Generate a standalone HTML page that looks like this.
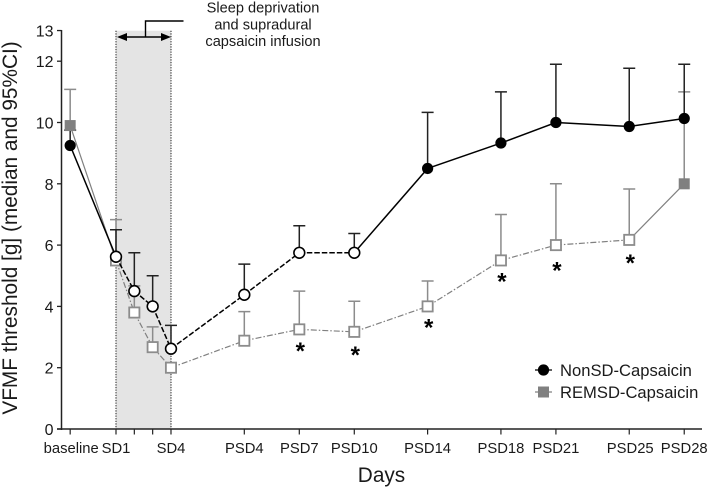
<!DOCTYPE html>
<html>
<head>
<meta charset="utf-8">
<style>
html,body{margin:0;padding:0;background:#fff;}
svg{display:block;font-family:"Liberation Sans",Arial,sans-serif;}
</style>
</head>
<body>
<svg id="chart" width="709" height="489" viewBox="0 0 709 489" xmlns="http://www.w3.org/2000/svg"></svg>
<script>
const categories = ['baseline','SD1','SD2','SD3','SD4','PSD4','PSD7','PSD10','PSD14','PSD18','PSD21','PSD25','PSD28'];
const days = [-1.5,1,2,3,4,8,11,14,18,22,25,29,32];
const tickLabels = ['baseline','SD1','','','SD4','PSD4','PSD7','PSD10','PSD14','PSD18','PSD21','PSD25','PSD28'];
const yTicks = [0,2,4,6,8,10,12,13];
const nonSD = [9.25,5.62,4.5,4.0,2.62,4.38,5.75,5.75,8.5,9.33,10,9.87,10.13];
const nonSDUpper = [9.75,6.5,5.75,5.0,3.38,5.38,6.63,6.38,10.33,11.0,11.9,11.77,11.9];
const remSD = [9.9,5.5,3.8,2.67,2.0,2.88,3.25,3.17,4.0,5.5,6.0,6.17,8.0];
const remSDUpper = [11.08,6.83,4.67,3.33,2.0,3.83,4.5,4.17,4.83,7.0,8.0,7.83,11.0];
const nonSDHollow = [false,true,true,true,true,true,true,true,false,false,false,false,false];
const remSDHollow = [false,true,true,true,true,true,true,true,true,true,true,true,false];
const sigCategories = ['PSD7','PSD10','PSD14','PSD18','PSD21','PSD25'];
const sigValues = [2.68,2.55,3.44,4.94,5.3,5.55];

const svg = document.getElementById('chart');
const NS = 'http://www.w3.org/2000/svg';
const xScale = d => 116 + (d - 1) * 18.33;
const yScale = v => 429 - v * 30.65;
const xOf = name => xScale(days[categories.indexOf(name)]);

function mk(tag, attrs, text) {
  const el = document.createElementNS(NS, tag);
  for (const k in attrs) el.setAttribute(k, attrs[k]);
  if (text !== undefined) el.textContent = text;
  return el;
}

// sleep-deprivation band
let el = mk('rect', {x:116, y:30.7, width:55, height:398.3, fill:'#e4e4e4'});


svg.appendChild(el);
[116,171].forEach(x => {
  const l = mk('line', {x1:x, x2:x, y1:30.7, y2:429, stroke:'#333', 'stroke-width':1.1, 'stroke-dasharray':'1.3 1.3'});
  
  
  svg.appendChild(l);
});

// axes
el = mk('line', {x1:61.5, x2:61.5, y1:30, y2:430, stroke:'#222', 'stroke-width':1.5});


svg.appendChild(el);
el = mk('line', {x1:57, x2:702, y1:429, y2:429, stroke:'#222', 'stroke-width':1.5});


svg.appendChild(el);

yTicks.forEach(v => {
  const t = mk('line', {x1:57, x2:61.5, y1:yScale(v), y2:yScale(v), stroke:'#222', 'stroke-width':1.3});
  
  
  svg.appendChild(t);
  const lab = mk('text', {x:53.5, y:yScale(v)+6, 'text-anchor':'end', 'font-size':16, fill:'#1a1a1a'}, String(v));
  
  
  svg.appendChild(lab);
});

days.forEach((d, i) => {
  const x = xScale(d);
  const t = mk('line', {x1:x, x2:x, y1:429, y2:434.5, stroke:'#222', 'stroke-width':1.2});
  
  
  svg.appendChild(t);
  if (tickLabels[i]) {
    const shift = tickLabels[i] === 'baseline' ? 1 : (tickLabels[i] === 'PSD25' ? 1 : 0);
    const lab = mk('text', {x:x+shift, y:453, 'text-anchor':'middle', 'font-size':14.8, fill:'#1a1a1a'}, tickLabels[i]);
    
    
    svg.appendChild(lab);
  }
});

function errorBars(values, upper, color, width, name) {
  values.forEach((v, i) => {
    if (upper[i] <= v) return;
    const x = xScale(days[i]);
    const g = mk('path', {d:`M${x} ${yScale(v)}V${yScale(upper[i])}M${x-6} ${yScale(upper[i])}H${x+6}`, stroke:color, 'stroke-width':width, fill:'none'});
    
    
    svg.appendChild(g);
  });
}

function segment(values, i, color, width, dash, name) {
  const attrs = {x1:xScale(days[i]), y1:yScale(values[i]), x2:xScale(days[i+1]), y2:yScale(values[i+1]), stroke:color, 'stroke-width':width};
  if (dash) attrs['stroke-dasharray'] = dash;
  const s = mk('line', attrs);
  
  
  svg.appendChild(s);
}

// REMSD series
errorBars(remSD, remSDUpper, '#8c8c8c', 1.5, 'remsd-error-bar');
for (let i = 0; i < remSD.length - 1; i++) {
  const solid = i === 0 || i === remSD.length - 2;
  segment(remSD, i, '#808080', 1.2, solid ? '' : '6 2 1.5 2', 'remsd-line');
}
// NonSD error bars
errorBars(nonSD, nonSDUpper, '#222', 1.5, 'nonsd-error-bar');
remSD.forEach((v, i) => {
  const x = xScale(days[i]), y = yScale(v);
  const hollow = remSDHollow[i];
  const s = hollow ? 10.2 : 11;
  const m = mk('rect', {x:x-s/2, y:y-s/2, width:s, height:s, fill:hollow?'#fff':'#808080', stroke:hollow?'#8c8c8c':'none', 'stroke-width':hollow?1.8:0});
  
  
  svg.appendChild(m);
});

// NonSD series
for (let i = 0; i < nonSD.length - 1; i++) {
  const solid = i === 0 || i >= 7;
  segment(nonSD, i, '#000', 1.5, solid ? '' : '5.5 2', 'nonsd-line');
}
nonSD.forEach((v, i) => {
  const hollow = nonSDHollow[i];
  const c = mk('circle', {cx:xScale(days[i]), cy:yScale(v), r:hollow?5.4:5.6, fill:hollow?'#fff':'#000', stroke:'#000', 'stroke-width':hollow?1.6:0});
  
  
  svg.appendChild(c);
});

// significance stars
sigCategories.forEach((name, i) => {
  const a = mk('text', {x:xOf(name)+1, y:yScale(sigValues[i])+12, 'text-anchor':'middle', 'font-size':24, 'font-weight':'bold', fill:'#000'}, '*');
  
  
  svg.appendChild(a);
});

// annotation arrow and bracket
el = mk('path', {d:'M124 37H163', stroke:'#000', 'stroke-width':1.6, fill:'none'});


svg.appendChild(el);
el = mk('path', {d:'M117 37L127 33V41ZM171 37L161 33V41Z', fill:'#000'});


svg.appendChild(el);
el = mk('path', {d:'M145.5 37V21H183.5', stroke:'#000', 'stroke-width':1.4, fill:'none'});


svg.appendChild(el);
['Sleep deprivation','and supradural','capsaicin infusion'].forEach((line, i) => {
  const t = mk('text', {x:263, y:12.7 + i*16.7, 'text-anchor':'middle', 'font-size':14.6, fill:'#1a1a1a'}, line);
  
  
  svg.appendChild(t);
});

// axis titles
el = mk('text', {x:0, y:0, transform:'translate(17 228) rotate(-90)', 'text-anchor':'middle', 'font-size':20.8, fill:'#1a1a1a'}, 'VFMF threshold [g] (median and 95%CI)');


svg.appendChild(el);
el = mk('text', {x:381.5, y:482, 'text-anchor':'middle', 'font-size':20.8, fill:'#1a1a1a'}, 'Days');


svg.appendChild(el);

// legend
el = mk('line', {x1:535, x2:552, y1:370, y2:370, stroke:'#000', 'stroke-width':1.2});


svg.appendChild(el);
el = mk('circle', {cx:543.5, cy:370, r:5.6, fill:'#000'});


svg.appendChild(el);
el = mk('text', {x:560, y:376, 'font-size':16.6, fill:'#1a1a1a'}, 'NonSD-Capsaicin');


svg.appendChild(el);
el = mk('line', {x1:535, x2:552, y1:392, y2:392, stroke:'#808080', 'stroke-width':1.2});


svg.appendChild(el);
el = mk('rect', {x:538, y:386.5, width:11, height:11, fill:'#808080'});


svg.appendChild(el);
el = mk('text', {x:560, y:398, 'font-size':16.6, fill:'#1a1a1a'}, 'REMSD-Capsaicin');


svg.appendChild(el);
</script>
</body>
</html>
